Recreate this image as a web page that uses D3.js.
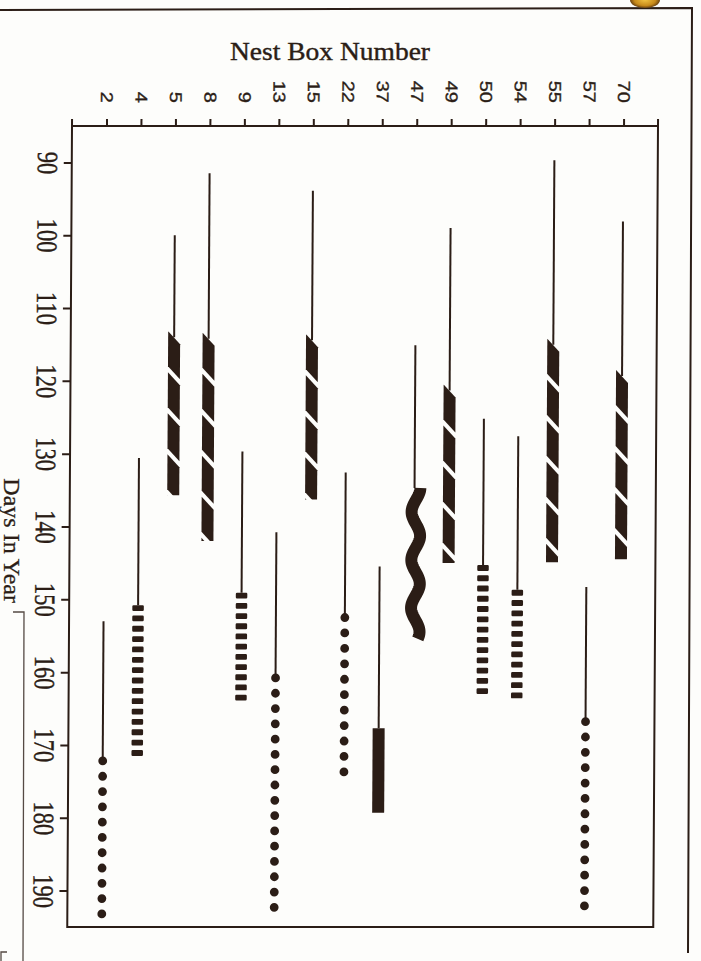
<!DOCTYPE html>
<html><head><meta charset="utf-8">
<script src="https://cdn.jsdelivr.net/npm/d3@7"></script>
<style>html,body{margin:0;padding:0;background:#fdfdfb;} svg{display:block}</style>
</head><body>
<svg id="chart" width="701" height="961"></svg>
<script>
// ---- data ----
const boxes      = ["2","4","5","8","9","13","15","22","37","47","49","50","54","55","57","70"];
const stemStart  = [153, 130.6, 100, 91.5, 129.7, 140.8, 93.9, 132.6, 145.5, 115.1, 99, 125.2, 127.6, 89.7, 148.3, 98.1];
const markStart  = [172.2, 150.8, 113.2, 113.4, 149.1, 160.8, 113.6, 152.5, 167.7, 134.7, 120.5, 145.3, 148.7, 114.2, 166.8, 118.5];
const markEnd    = [193.2, 171.5, 135.7, 142.0, 163.9, 192.3, 136.3, 173.7, 179.3, 155.5, 145.0, 163.0, 163.6, 144.9, 192.1, 144.5];
const markType   = ["dots","ladder","hatch","hatch","ladder","dots","hatch","dots","solid","wave","hatch","ladder","ladder","hatch","dots","hatch"];
const dayTicks   = [90,100,110,120,130,140,150,160,170,180,190];
const dayDomain  = [85,195];
const xTitle = "Nest Box Number";
const yTitle = "Days In Year";

const ink = "#2b1d16";
const svg = d3.select("#chart");
const L = 72, R = 658, T = 126, B = 927;

// page decorations
svg.append("path").attr("d","M0,10 L692,8 L688,953").attr("fill","none").attr("stroke",ink).attr("stroke-width",2);
svg.append("path").attr("d","M13,612 L24,612 L23,961").attr("fill","none").attr("stroke",ink).attr("stroke-width",1.3).attr("opacity",0.8);
svg.append("path").attr("d","M1,961 L1,952 L7,952").attr("fill","none").attr("stroke",ink).attr("stroke-width",1.3).attr("opacity",0.8);
const grad = svg.append("defs").append("radialGradient").attr("id","orn");
grad.append("stop").attr("offset","0%").attr("stop-color","#f0c040");
grad.append("stop").attr("offset","70%").attr("stop-color","#c88a1a");
grad.append("stop").attr("offset","100%").attr("stop-color","#6b4210");
svg.append("ellipse").attr("cx",645).attr("cy",0).attr("rx",15).attr("ry",8).attr("fill","url(#orn)");

const chart = svg.append("g").attr("transform",`translate(0,${T}) skewX(-0.34) translate(0,${-T})`);

const x = d3.scalePoint().domain(boxes).range([L,R]).padding(1);
const y = d3.scaleLinear().domain(dayDomain).range([T,B]);

// frame
chart.append("path")
  .attr("d",`M${L},${T-7} L${L},${B} L${R},${B} L${R},${T-7} M${L},${T} L${R},${T}`)
  .attr("fill","none").attr("stroke",ink).attr("stroke-width",2);

// top axis
const gx = chart.append("g").attr("transform",`translate(0,${T})`)
  .call(d3.axisTop(x).tickSize(7).tickSizeOuter(0));
gx.attr("font-size",null).attr("font-family",null);
gx.select(".domain").remove();
gx.selectAll(".tick line").attr("stroke",ink).attr("stroke-width",2);
gx.selectAll(".tick text")
  .attr("x",0).attr("y",0).attr("dy","0.36em")
  .attr("transform",`translate(0,${103-T}) rotate(90) scale(1,0.85)`)
  .attr("text-anchor","end")
  .attr("fill",ink).attr("stroke",ink).attr("stroke-width",0.4)
  .style("font-family","'Liberation Sans', Arial, sans-serif")
  .style("font-size","20px");

// left axis
const gy = chart.append("g").attr("transform",`translate(${L},0)`)
  .call(d3.axisLeft(y).tickValues(dayTicks).tickSize(8).tickSizeOuter(0));
gy.attr("font-size",null).attr("font-family",null);
gy.select(".domain").remove();
gy.selectAll(".tick line").attr("stroke",ink).attr("stroke-width",2);
gy.selectAll(".tick text")
  .attr("x",0).attr("y",0).attr("dy","0.34em")
  .attr("transform",`translate(${48-L},0) rotate(90) scale(1,1.3)`)
  .attr("text-anchor","middle")
  .attr("fill",ink).attr("stroke",ink).attr("stroke-width",0.3)
  .style("font-family","'Liberation Serif', 'Times New Roman', serif")
  .style("font-size","22.5px");

// titles
svg.append("text").attr("x",330).attr("y",60).attr("text-anchor","middle")
  .attr("textLength",200).attr("lengthAdjust","spacingAndGlyphs")
  .attr("fill",ink).attr("stroke",ink).attr("stroke-width",0.4)
  .style("font-family","'Liberation Serif', 'Times New Roman', serif").style("font-size","25.5px")
  .text(xTitle);
svg.append("text").attr("transform","translate(3.5,603) rotate(90)").attr("text-anchor","end")
  .attr("fill",ink).attr("stroke",ink).attr("stroke-width",0.3)
  .style("font-family","'Liberation Serif', 'Times New Roman', serif").style("font-size","24px")
  .text(yTitle);

// marks
const defs = svg.select("defs");
const rows = boxes.map((b,i)=>({box:b, s:stemStart[i], a:markStart[i], e:markEnd[i], type:markType[i], i}));

rows.forEach(r=>{
  const cx = x(r.box);
  const g = chart.append("g");
  const y0 = y(r.a), y1 = y(r.e);
  let stemEnd = y0;
  if (r.type === "hatch") stemEnd = y0 + 6;
  g.append("line").attr("x1",cx).attr("x2",cx).attr("y1",y(r.s)).attr("y2",stemEnd)
    .attr("stroke",ink).attr("stroke-width",2);

  if (r.type === "hatch") {
    const P = 41, gapH = 6, slant = 13, w = 12;
    const id = "clip"+r.i;
    defs.append("clipPath").attr("id",id).append("rect")
      .attr("x",cx-w/2-1).attr("y",y0).attr("width",w+2).attr("height",y1-y0);
    const n = Math.ceil((y1-y0)/P)+1;
    g.append("g").attr("clip-path",`url(#${id})`)
      .selectAll("polygon").data(d3.range(n).map(k=>y0+k*P)).join("polygon")
      .attr("points",t=>[[cx-w/2,t],[cx+w/2,t+slant],[cx+w/2,t+P-gapH+slant],[cx-w/2,t+P-gapH]].map(p=>p.join(",")).join(" "))
      .attr("fill",ink);
  } else if (r.type === "ladder") {
    const h = 5.8, pitch = 10.4, w = 11.5;
    const n = Math.round((y1-y0-h)/pitch)+1;
    const st = (y1-y0-h)/(n-1);
    g.selectAll("rect").data(d3.range(n).map(k=>y0+k*st)).join("rect")
      .attr("x",cx-w/2).attr("y",t=>t).attr("width",w).attr("height",h).attr("rx",1.2)
      .attr("fill",ink);
  } else if (r.type === "dots") {
    const n = Math.round((y1-y0)/15.3)+1;
    const st = (y1-y0)/(n-1);
    g.selectAll("circle").data(d3.range(n).map(k=>y0+k*st)).join("circle")
      .attr("cx",cx).attr("cy",t=>t).attr("r",4.4).attr("fill",ink);
  } else if (r.type === "solid") {
    g.append("rect").attr("x",cx-6).attr("y",y0).attr("width",12).attr("height",y1-y0).attr("fill",ink);
  } else if (r.type === "wave") {
    const lam = 48, A = 4.3;
    const pts = d3.range(y0, y1+0.5, 1).map(t=>[cx+1.5+A*Math.cos(2*Math.PI*(t-y0)/lam), t]);
    g.append("path").attr("d",d3.line()(pts)).attr("fill","none")
      .attr("stroke",ink).attr("stroke-width",12).attr("stroke-linecap","butt");
  }
});
</script>
</body></html>
